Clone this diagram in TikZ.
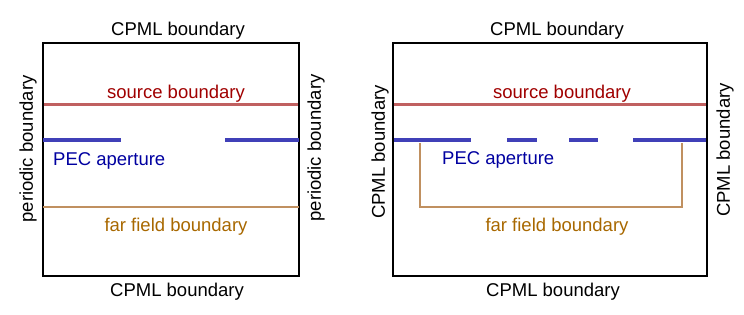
\documentclass[tikz,border=0pt]{standalone}
\usepackage{fontspec}
\setmainfont{Liberation Sans}
\usepackage{tikz}
\usetikzlibrary{positioning}

\definecolor{srcline}{RGB}{192,96,96}
\definecolor{srctext}{RGB}{160,0,0}
\definecolor{pecline}{RGB}{64,64,184}
\definecolor{pectext}{RGB}{0,0,160}
\definecolor{ffline}{RGB}{192,144,96}
\definecolor{fftext}{RGB}{168,104,0}

\begin{document}
\begin{tikzpicture}[
    x=1pt, y=-1pt,
    lbl/.style={inner sep=0pt, font=\fontsize{18.5}{20}\selectfont},
    simbox/.style={draw, line width=2pt},
    srcb/.style={draw=srcline, line width=3pt},
    pec/.style={draw=pecline, line width=4pt},
    farb/.style={draw=ffline, line width=2.5pt}
]
\useasboundingbox (0,0) rectangle (744,315);

% Left panel: periodic sides
\draw[simbox] (43,43) rectangle (299,276);
\node[lbl] (topL) at (178,31) {CPML boundary};
\node[lbl] (botL) at (177,292) {CPML boundary};
\node[lbl, rotate=90] (sideLa) at (28,149) {periodic boundary};
\node[lbl, rotate=90] (sideLb) at (316,148) {periodic boundary};

\coordinate (sLa) at (44,105);
\coordinate (sLb) at (298,105);
\draw[srcb] (sLa) -- (sLb);
\node[lbl, text=srctext] (srcL) at (176,94) {source boundary};

\coordinate (pLa) at (43,140);
\coordinate (pLb) at (121,140);
\coordinate (pLc) at (225,140);
\coordinate (pLd) at (299,140);
\draw[pec] (pLa) -- (pLb);
\draw[pec] (pLc) -- (pLd);
\node[lbl, text=pectext, anchor=west] (pecL) at (53,161) {PEC aperture};

\coordinate (fLa) at (43,207);
\coordinate (fLb) at (299,207);
\draw[farb] (fLa) -- (fLb);
\node[lbl, text=fftext] (ffL) at (176,227) {far field boundary};

% Right panel: CPML on all sides
\draw[simbox] (393,43) rectangle (707,276);
\node[lbl] (topR) at (557,31) {CPML boundary};
\node[lbl] (botR) at (553,292) {CPML boundary};
\node[lbl, rotate=90] (sideRa) at (380,152) {CPML boundary};
\node[lbl, rotate=90] (sideRb) at (725,150) {CPML boundary};

\coordinate (sRa) at (394,105);
\coordinate (sRb) at (706,105);
\draw[srcb] (sRa) -- (sRb);
\node[lbl, text=srctext] (srcR) at (562,94) {source boundary};

\coordinate (fRa) at (420,143);
\coordinate (fRb) at (420,207);
\coordinate (fRc) at (682,207);
\coordinate (fRd) at (682,143);
\draw[farb] (fRa) -- (fRb) -- (fRc) -- (fRd);

\coordinate (pRa) at (394,140);
\coordinate (pRb) at (471,140);
\coordinate (pRc) at (507,140);
\coordinate (pRd) at (537,140);
\coordinate (pRe) at (569,140);
\coordinate (pRf) at (598,140);
\coordinate (pRg) at (633,140);
\coordinate (pRh) at (706,140);
\draw[pec] (pRa) -- (pRb);
\draw[pec] (pRc) -- (pRd);
\draw[pec] (pRe) -- (pRf);
\draw[pec] (pRg) -- (pRh);
\node[lbl, text=pectext, anchor=west] (pecR) at (442,160) {PEC aperture};
\node[lbl, text=fftext] (ffR) at (557,227) {far field boundary};

\end{tikzpicture}
\end{document}
